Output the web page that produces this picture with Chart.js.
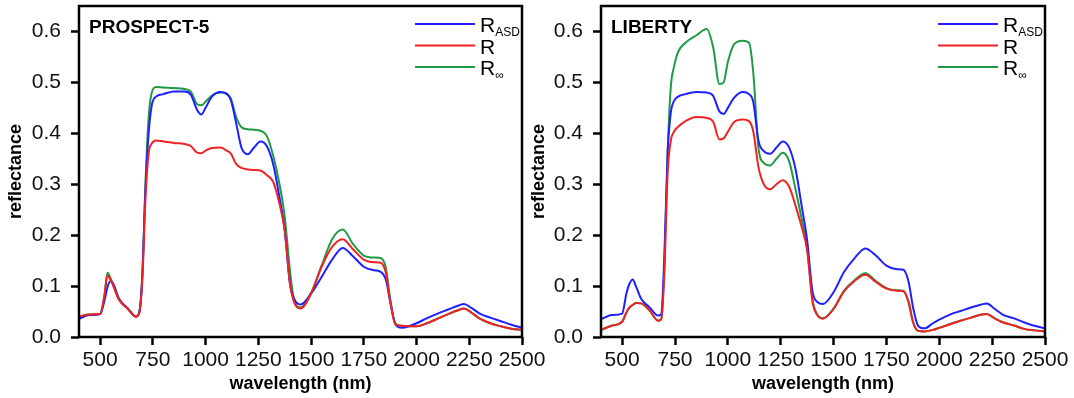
<!DOCTYPE html>
<html>
<head>
<meta charset="utf-8">
<script src="https://cdn.jsdelivr.net/npm/chart.js@4.4.1/dist/chart.umd.min.js"></script>
<style>
  body { margin: 0; background: #fff; }
  .panel { position: absolute; top: 0; }
</style>
</head>
<body>
<div class="panel" style="left:0"><canvas id="left" width="560" height="398"></canvas></div>
<div class="panel" style="left:523px"><canvas id="right" width="551" height="398"></canvas></div>
<script>
// wavelengths (nm)
const wl = [400, 450, 500, 520, 535, 550, 565, 590, 630, 670, 685, 700, 715, 730, 745, 765, 800, 850, 900, 930,
  960, 980, 1000, 1030, 1070, 1100, 1120, 1145, 1170, 1200, 1230, 1260, 1290, 1320, 1350, 1375, 1400, 1420, 1450, 1500,
  1550, 1600, 1650, 1700, 1750, 1800, 1830, 1855, 1875, 1900, 1930, 1970, 2000, 2050, 2100, 2150, 2200, 2225, 2260, 2300,
  2350, 2400, 2450, 2500];

// PROSPECT-5
const prospectAsd = [0.036, 0.043, 0.045, 0.070, 0.098, 0.110, 0.102, 0.075, 0.057, 0.040, 0.047, 0.120, 0.290, 0.400, 0.455, 0.472, 0.477, 0.482, 0.482, 0.476,
  0.446, 0.437, 0.450, 0.472, 0.481, 0.478, 0.465, 0.420, 0.372, 0.359, 0.372, 0.384, 0.375, 0.340, 0.275, 0.210, 0.105, 0.075, 0.064, 0.085,
  0.118, 0.152, 0.175, 0.158, 0.138, 0.131, 0.128, 0.112, 0.070, 0.025, 0.018, 0.022, 0.027, 0.037, 0.046, 0.054, 0.062, 0.065, 0.057, 0.046,
  0.038, 0.031, 0.024, 0.018];
const prospectR = [0.040, 0.044, 0.045, 0.080, 0.121, 0.112, 0.098, 0.073, 0.056, 0.040, 0.047, 0.110, 0.270, 0.360, 0.380, 0.386, 0.384, 0.381, 0.379, 0.375,
  0.362, 0.361, 0.366, 0.371, 0.372, 0.366, 0.360, 0.340, 0.332, 0.329, 0.328, 0.327, 0.318, 0.305, 0.262, 0.210, 0.105, 0.068, 0.056, 0.085,
  0.138, 0.177, 0.192, 0.172, 0.152, 0.147, 0.146, 0.125, 0.070, 0.025, 0.022, 0.021, 0.021, 0.027, 0.036, 0.045, 0.053, 0.056, 0.048, 0.036,
  0.027, 0.021, 0.016, 0.014];
const prospectInf = [0.040, 0.044, 0.045, 0.080, 0.126, 0.115, 0.099, 0.073, 0.056, 0.040, 0.047, 0.120, 0.300, 0.430, 0.480, 0.491, 0.490, 0.489, 0.487, 0.482,
  0.457, 0.455, 0.462, 0.474, 0.480, 0.477, 0.468, 0.432, 0.412, 0.408, 0.407, 0.405, 0.395, 0.357, 0.301, 0.237, 0.131, 0.072, 0.058, 0.087,
  0.140, 0.192, 0.211, 0.182, 0.160, 0.156, 0.155, 0.135, 0.075, 0.026, 0.022, 0.021, 0.021, 0.027, 0.036, 0.045, 0.053, 0.056, 0.048, 0.036,
  0.027, 0.021, 0.016, 0.014];

// LIBERTY
const libertyAsd = [0.035, 0.043, 0.046, 0.085, 0.105, 0.113, 0.100, 0.075, 0.058, 0.042, 0.045, 0.164, 0.360, 0.440, 0.463, 0.472, 0.477, 0.481, 0.480, 0.474,
  0.443, 0.438, 0.450, 0.470, 0.481, 0.477, 0.462, 0.385, 0.365, 0.360, 0.372, 0.384, 0.372, 0.330, 0.255, 0.190, 0.090, 0.070, 0.065, 0.088,
  0.128, 0.155, 0.174, 0.160, 0.140, 0.133, 0.132, 0.108, 0.060, 0.022, 0.017, 0.027, 0.034, 0.044, 0.051, 0.058, 0.064, 0.066, 0.056, 0.044,
  0.037, 0.029, 0.022, 0.017];
const libertyR = [0.014, 0.022, 0.030, 0.048, 0.058, 0.063, 0.067, 0.066, 0.052, 0.032, 0.035, 0.130, 0.320, 0.385, 0.403, 0.413, 0.424, 0.432, 0.430, 0.423,
  0.388, 0.390, 0.403, 0.422, 0.427, 0.424, 0.404, 0.333, 0.300, 0.290, 0.300, 0.308, 0.295, 0.258, 0.215, 0.170, 0.070, 0.045, 0.036, 0.055,
  0.090, 0.110, 0.122, 0.108, 0.095, 0.091, 0.090, 0.068, 0.030, 0.012, 0.011, 0.014, 0.018, 0.025, 0.032, 0.038, 0.044, 0.045, 0.037, 0.029,
  0.023, 0.016, 0.013, 0.011];
const libertyInf = [0.014, 0.022, 0.030, 0.048, 0.058, 0.063, 0.067, 0.066, 0.052, 0.032, 0.035, 0.140, 0.360, 0.490, 0.530, 0.560, 0.578, 0.592, 0.605, 0.570,
  0.497, 0.500, 0.540, 0.575, 0.582, 0.578, 0.520, 0.370, 0.342, 0.337, 0.350, 0.362, 0.345, 0.290, 0.230, 0.175, 0.075, 0.046, 0.037, 0.056,
  0.091, 0.112, 0.125, 0.110, 0.096, 0.092, 0.091, 0.069, 0.031, 0.012, 0.011, 0.014, 0.018, 0.025, 0.032, 0.038, 0.044, 0.045, 0.037, 0.029,
  0.023, 0.016, 0.013, 0.011];

const xTicks = [500, 750, 1000, 1250, 1500, 1750, 2000, 2250, 2500];
const yTicks = [0.0, 0.1, 0.2, 0.3, 0.4, 0.5, 0.6];
const seriesNames = ['ASD', '', '∞'];

const BLUE = '#1f1fff', RED = '#ef2323', GREEN = '#1f9a46';
const FONT = "'Liberation Sans', Arial, sans-serif";

function pts(vals) {
  return wl.map((w, i) => ({ x: w, y: vals[i] }));
}

function frameAndLegend(title) {
  return {
    id: 'frameLegend',
    afterDraw(chart) {
      const ctx = chart.ctx;
      const a = chart.chartArea;
      ctx.save();
      ctx.strokeStyle = '#000';
      ctx.lineWidth = 2.5;
      ctx.strokeRect(a.left, a.top, a.right - a.left, a.bottom - a.top);

      ctx.fillStyle = '#000';
      ctx.font = 'bold 19px ' + FONT;
      ctx.textBaseline = 'alphabetic';
      ctx.fillText(title, a.left + 10, a.top + 27);

      // legend with subscripts
      const cols = [BLUE, RED, GREEN];
      cols.forEach((c, i) => {
        const y = a.top + 18 + i * 21.5;
        const x0 = a.right - 107;
        ctx.strokeStyle = c;
        ctx.lineWidth = 2;
        ctx.beginPath();
        ctx.moveTo(x0, y);
        ctx.lineTo(x0 + 60, y);
        ctx.stroke();
        ctx.fillStyle = '#000';
        ctx.font = '21px ' + FONT;
        ctx.fillText('R', x0 + 65, y + 8);
        if (seriesNames[i]) {
          const w = ctx.measureText('R').width;
          ctx.font = '12px ' + FONT;
          ctx.fillText(seriesNames[i], x0 + 65 + w, y + 12);
        }
      });
      ctx.restore();
    }
  };
}

function makeChart(id, title, asd, r, inf, areaLeft, padRight) {
  const ctx = document.getElementById(id).getContext('2d');
  return new Chart(ctx, {
    type: 'line',
    data: {
      datasets: [
        { label: 'R', data: pts(r), borderColor: RED },
        { label: 'R ASD', data: pts(asd), borderColor: BLUE },
        { label: 'R inf', data: pts(inf), borderColor: GREEN }
      ]
    },
    options: {
      responsive: false,
      animation: false,
      devicePixelRatio: 1,
      datasets: {
        line: { borderWidth: 2, pointRadius: 0, fill: false, cubicInterpolationMode: 'monotone' }
      },
      layout: { padding: { top: 6, right: padRight, left: 0, bottom: 0 } },
      plugins: { legend: { display: false }, tooltip: { enabled: false } },
      scales: {
        x: {
          type: 'linear',
          min: 400,
          max: 2500,
          afterBuildTicks: s => { s.ticks = xTicks.map(v => ({ value: v })); },
          afterFit: s => { s.height = 61; s.paddingLeft = 0; s.paddingRight = 0; },
          ticks: { color: '#111', font: { family: FONT, size: 21 }, padding: 3, maxRotation: 0, autoSkip: false, callback: v => String(v) },
          grid: { drawOnChartArea: false, tickLength: 8, tickWidth: 2.5, tickColor: '#000' },
          border: { display: false },
          title: { display: true, text: 'wavelength (nm)', color: '#000', font: { family: FONT, size: 18, weight: 'bold' }, padding: { top: 2, bottom: 3 } }
        },
        y: {
          min: 0,
          max: 0.65,
          afterBuildTicks: s => { s.ticks = yTicks.map(v => ({ value: v })); },
          afterFit: s => { s.width = areaLeft; s.paddingTop = 0; s.paddingBottom = 0; },
          ticks: { color: '#111', font: { family: FONT, size: 21 }, padding: 10, callback: v => v.toFixed(1) },
          grid: { drawOnChartArea: false, tickLength: 8, tickWidth: 2.5, tickColor: '#000' },
          border: { display: false },
          title: { display: true, text: 'reflectance', color: '#000', font: { family: FONT, size: 18, weight: 'bold' }, padding: { top: 5, bottom: 2 } }
        }
      }
    },
    plugins: [frameAndLegend(title)]
  });
}

makeChart('left', 'PROSPECT-5', prospectAsd, prospectR, prospectInf, 79, 38);
makeChart('right', 'LIBERTY', libertyAsd, libertyR, libertyInf, 78, 29);
</script>
</body>
</html>
